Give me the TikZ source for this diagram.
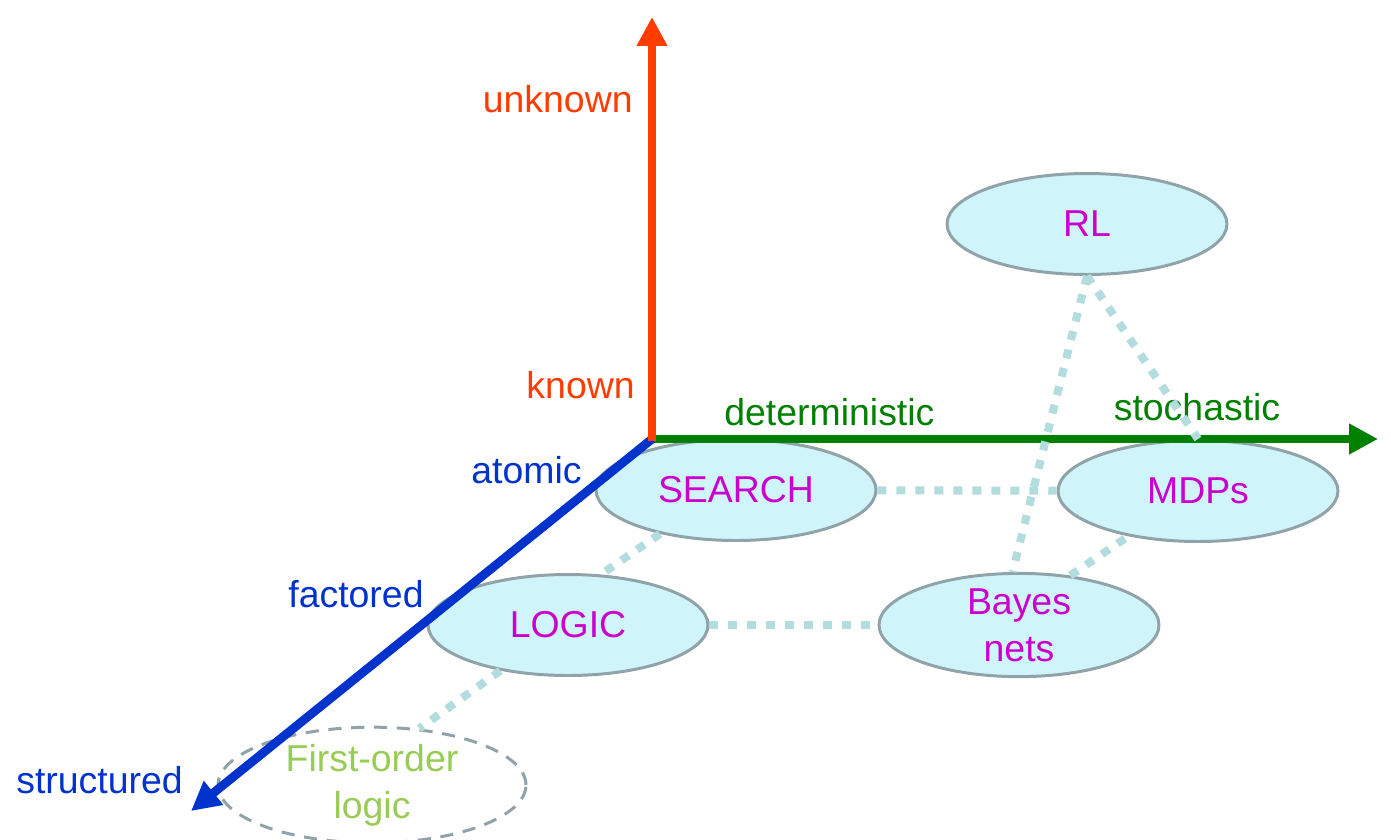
\documentclass[tikz,border=0pt]{standalone}
\usepackage{fontspec}
\setmainfont{Liberation Sans}
\usetikzlibrary{positioning, calc, shapes.geometric, arrows.meta}
\definecolor{axisred}{RGB}{255,60,0}
\definecolor{axisgreen}{RGB}{0,128,0}
\definecolor{axisblue}{RGB}{0,51,204}
\definecolor{topicpink}{RGB}{204,0,204}
\definecolor{bubble}{RGB}{207,245,250}
\definecolor{rim}{RGB}{143,163,168}
\definecolor{linkblue}{RGB}{179,220,223}
\definecolor{folgreen}{RGB}{153,204,85}

\begin{document}
\begin{tikzpicture}[x=0.02cm, y=-0.02cm, topic/.style={ellipse,draw=rim,line width=1.7pt,fill=bubble,minimum width=5.6cm,minimum height=2.02cm,inner sep=0pt,text=topicpink,align=center,font=\fontsize{21.3}{26.7}\selectfont}, axis/.style={line width=5pt,-{Triangle[length=16.5pt,width=16.5pt]}}, lbl/.style={inner sep=0pt,font=\fontsize{21.3}{26.7}\selectfont}, dotlink/.style={draw=linkblue,line width=4.6pt,dash pattern=on 5.1pt off 5.7pt} ]
\useasboundingbox (0,0) rectangle (1391,839);
\node (rl) [topic] at (1087,224) {RL};
\node (search) [topic] at (736,490) {SEARCH};
\node (mdps) [topic] at (1198,491) {MDPs};
\node (logic) [topic] at (568,625) {LOGIC};
\node (bayes) [topic] at (1019,625) {Bayes\\nets};
\node (fol) [topic, fill=white, dash pattern=on 7.5pt off 5.5pt, text=folgreen, minimum width=6.16cm] at (372,785) {First-order\\logic};
  \begin{scope}
    \coordinate (origin) at (652,439);
    \coordinate (up) at (652,17);
    \coordinate (right) at (1378,439);
    \coordinate (down) at (191,811);
    \draw [axis, axisgreen] (origin) -- (right);
    \draw [axis, axisblue] (origin) -- (down);
    \draw [axis, axisred] ($(origin)+(0,2)$) -- (up);
    \node (unknown) [lbl, text=axisred, anchor=base east] at (633,112) {unknown};
    \node (known) [lbl, text=axisred, anchor=base east] at (635,398) {known};
    \node (determ) [lbl, text=axisgreen, anchor=base west] at (724,425) {deterministic};
    \node (stoch) [lbl, text=axisgreen, anchor=base] at (1197,420) {stochastic};
    \node (atomic) [lbl, text=axisblue, anchor=base east] at (582,483) {atomic};
    \node (factored) [lbl, text=axisblue, anchor=base west] at (288,607) {factored};
    \node (structured) [lbl, text=axisblue, anchor=base west] at (16,793) {structured};
    \draw [dotlink] (search) -- (mdps);
    \draw [dotlink] (logic) -- (bayes);
    \draw [dotlink] (search.210) -- (logic.57);
    \draw [dotlink] (logic.214) -- (fol.50);
    \draw [dotlink] (bayes.44) -- (mdps.213);
    \draw [dotlink] (rl.south) -- (bayes.97);
    \draw [dotlink] (rl.south) -- (mdps.north);
  \end{scope}
\end{tikzpicture}
\end{document}
